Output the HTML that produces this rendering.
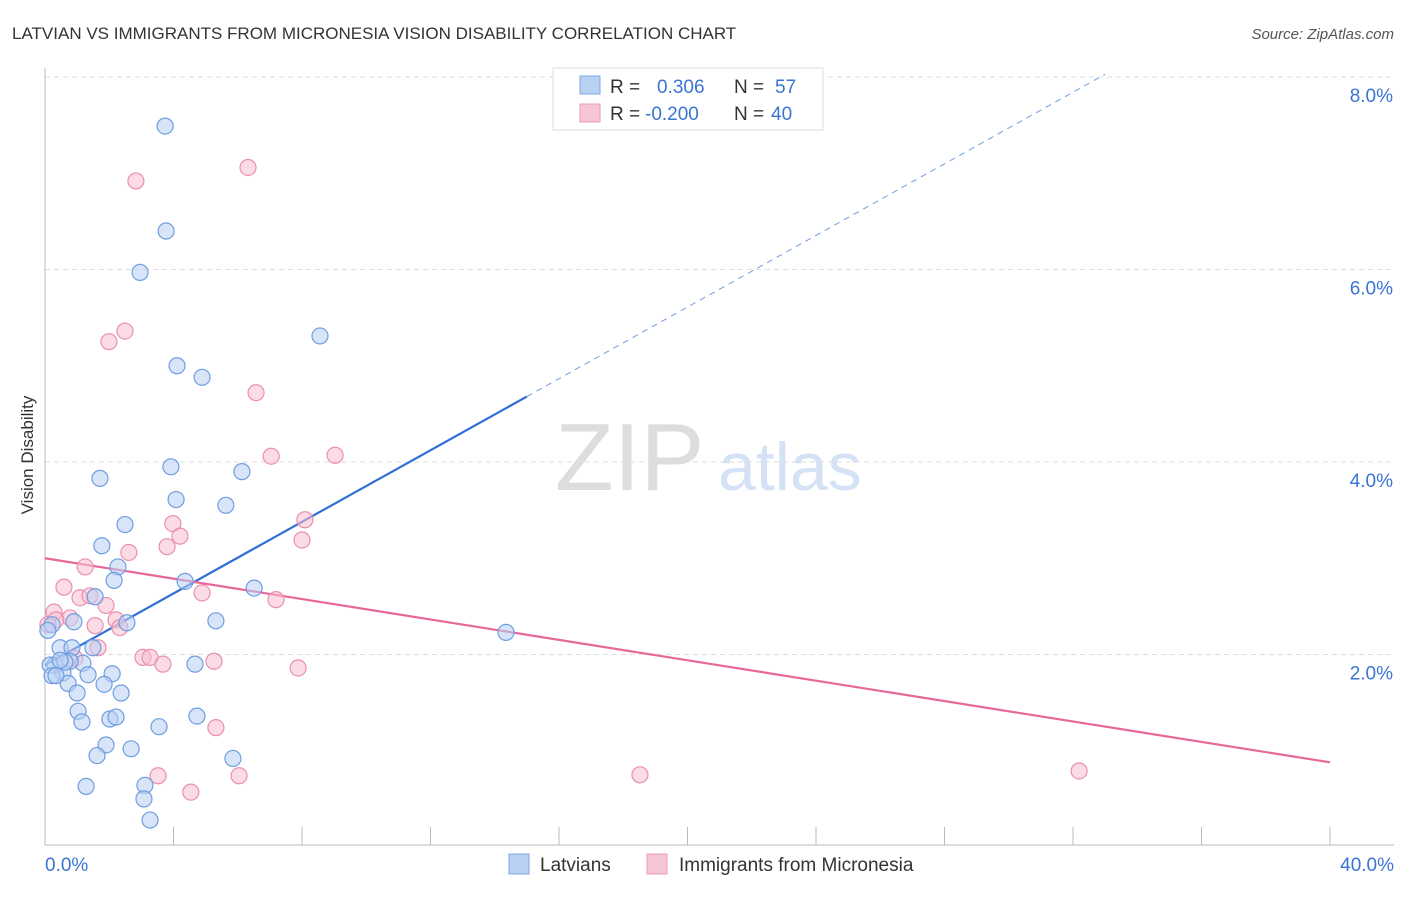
<!DOCTYPE html>
<html><head><meta charset="utf-8"><style>
body{margin:0;background:#fff;font-family:"Liberation Sans",sans-serif;}
svg text{font-family:"Liberation Sans",sans-serif;}
</style></head><body>
<svg id="chart" width="1406" height="892">
<text x="12" y="39" font-size="17" fill="#333">LATVIAN VS IMMIGRANTS FROM MICRONESIA VISION DISABILITY CORRELATION CHART</text>
<text x="1394" y="39" font-size="15" fill="#555" font-style="italic" text-anchor="end">Source: ZipAtlas.com</text>
<text x="33" y="455" font-size="17" fill="#333" transform="rotate(-90 33 455)" text-anchor="middle">Vision Disability</text>
<text x="555" y="490" font-size="96" fill="#ddd" font-family="Liberation Serif">ZIP</text>
<text x="718" y="490" font-size="68" fill="#d5e2f5">atlas</text>
<g id="grid"></g><g id="axes"></g><g id="lines"></g><g id="pts"></g>
<g>
<rect x="553" y="68" width="270" height="62" fill="#fff" stroke="#ddd"/>
<rect x="580" y="76" width="20" height="18" fill="#b8d0f4" stroke="#7fa8e0"/>
<rect x="580" y="104" width="20" height="18" fill="#f7c6d5" stroke="#ee9ab5"/>
<text x="610" y="93" font-size="19" fill="#333">R = <tspan x="657" fill="#3a74d4">0.306</tspan><tspan x="734" fill="#333">N = </tspan><tspan x="775" fill="#3a74d4">57</tspan></text>
<text x="610" y="120" font-size="19" fill="#333">R = <tspan x="645" fill="#3a74d4">-0.200</tspan><tspan x="734" fill="#333">N = </tspan><tspan x="771" fill="#3a74d4">40</tspan></text>
</g>
<g>
<rect x="509" y="854" width="20" height="20" fill="#b8d0f4" stroke="#7fa8e0"/>
<text x="540" y="871" font-size="19" fill="#333">Latvians</text>
<rect x="647" y="854" width="20" height="20" fill="#f7c6d5" stroke="#ee9ab5"/>
<text x="679" y="871" font-size="19" fill="#333">Immigrants from Micronesia</text>
</g>
</svg>
<script>
const blueX=[3.74,3.77,2.96,8.56,4.11,4.89,1.71,3.92,6.13,4.08,5.63,2.49,1.77,2.27,2.15,4.36,6.51,1.56,2.55,5.32,0.90,14.35,0.22,0.47,0.84,1.49,1.18,0.78,0.31,0.16,0.56,0.22,1.34,2.09,4.67,0.72,1.84,1.00,2.37,1.03,1.15,2.02,2.21,3.55,4.73,1.90,2.68,1.62,5.85,1.28,3.11,3.08,3.27,0.34,0.62,0.09,0.47];
const blueY=[7.49,6.40,5.97,5.31,5.00,4.88,3.83,3.95,3.90,3.61,3.55,3.35,3.13,2.91,2.77,2.76,2.69,2.60,2.33,2.35,2.34,2.23,2.31,2.07,2.07,2.07,1.91,1.93,1.89,1.89,1.81,1.78,1.79,1.80,1.90,1.70,1.69,1.60,1.60,1.41,1.30,1.33,1.35,1.25,1.36,1.06,1.02,0.95,0.92,0.63,0.64,0.50,0.28,1.78,1.92,2.25,1.94];
const pinkX=[2.83,6.32,2.49,1.99,6.57,7.04,9.03,3.98,8.09,2.61,4.20,3.80,8.00,1.25,0.59,1.09,1.40,4.89,7.19,1.90,0.28,0.78,0.34,2.21,2.33,1.56,1.65,3.05,3.27,3.67,5.26,7.88,0.93,5.32,3.52,6.04,4.54,18.52,32.19,0.09];
const pinkY=[6.92,7.06,5.36,5.25,4.72,4.06,4.07,3.36,3.40,3.06,3.23,3.12,3.19,2.91,2.70,2.59,2.61,2.64,2.57,2.51,2.44,2.38,2.36,2.36,2.28,2.30,2.07,1.97,1.97,1.90,1.93,1.86,1.96,1.24,0.74,0.74,0.57,0.75,0.79,2.31];
const yTicks=[2,4,6,8];
const xTickVals=[0,4,8,12,16,20,24,28,32,36,40];
const blueFit=[1.89,0.186];
const pinkFit=[3.0,-0.053];
const NS='http://www.w3.org/2000/svg';
const X=v=>45+v*32.125, Y=v=>847-v*96.25;
function mk(p,t,a){const e=document.createElementNS(NS,t);for(const k in a)e.setAttribute(k,a[k]);document.getElementById(p).appendChild(e);return e;}
yTicks.forEach(t=>{
 const l=mk('grid','line',{x1:45,x2:1394,y1:Y(t),y2:Y(t),stroke:'#ddd','stroke-dasharray':'5,4'});
 
 
 const tx=mk('grid','text',{x:1393,y:Y(t)+25,'font-size':19,fill:'#3a74d4','text-anchor':'end'});
 tx.textContent=t.toFixed(1)+'%';
 
 
});
mk('axes','line',{x1:45,x2:45,y1:68,y2:845,stroke:'#bbb'});
mk('axes','line',{x1:45,x2:1394,y1:845,y2:845,stroke:'#bbb'});
xTickVals.forEach(t=>{
 const l=mk('axes','line',{x1:X(t),x2:X(t),y1:827,y2:845,stroke:'#bbb'});
 
 
});
[[0,'0.0%',45,'start'],[40,'40.0%',1394,'end']].forEach(a=>{
 const tx=mk('axes','text',{x:a[2],y:871,'font-size':19,fill:'#3a74d4','text-anchor':a[3]});
 tx.textContent=a[1];
 
 
});
function pts(xs,ys,fill,stroke,name){
 xs.forEach((x,i)=>{
  const c=mk('pts','circle',{cx:X(x),cy:Y(ys[i]),r:8,fill:fill,'fill-opacity':0.55,stroke:stroke,'stroke-width':1.2});
  
  
 });
}
pts(pinkX,pinkY,'#f7c0d0','#ea8fae','micronesia-point');
pts(blueX,blueY,'#b8d0f4','#6f9de0','latvian-point');
const bx2=15, bx3=33;
let l=mk('lines','line',{x1:X(0),y1:Y(blueFit[0]),x2:X(bx2),y2:Y(blueFit[0]+blueFit[1]*bx2),stroke:'#2f6fd6','stroke-width':2.2});


l=mk('lines','line',{x1:X(bx2),y1:Y(blueFit[0]+blueFit[1]*bx2),x2:X(bx3),y2:Y(blueFit[0]+blueFit[1]*bx3),stroke:'#6f9de0','stroke-width':1,'stroke-dasharray':'6,5'});


l=mk('lines','line',{x1:X(0),y1:Y(pinkFit[0]),x2:X(40),y2:Y(pinkFit[0]+pinkFit[1]*40),stroke:'#e8679a','stroke-width':2.2});


</script>
</body></html>
